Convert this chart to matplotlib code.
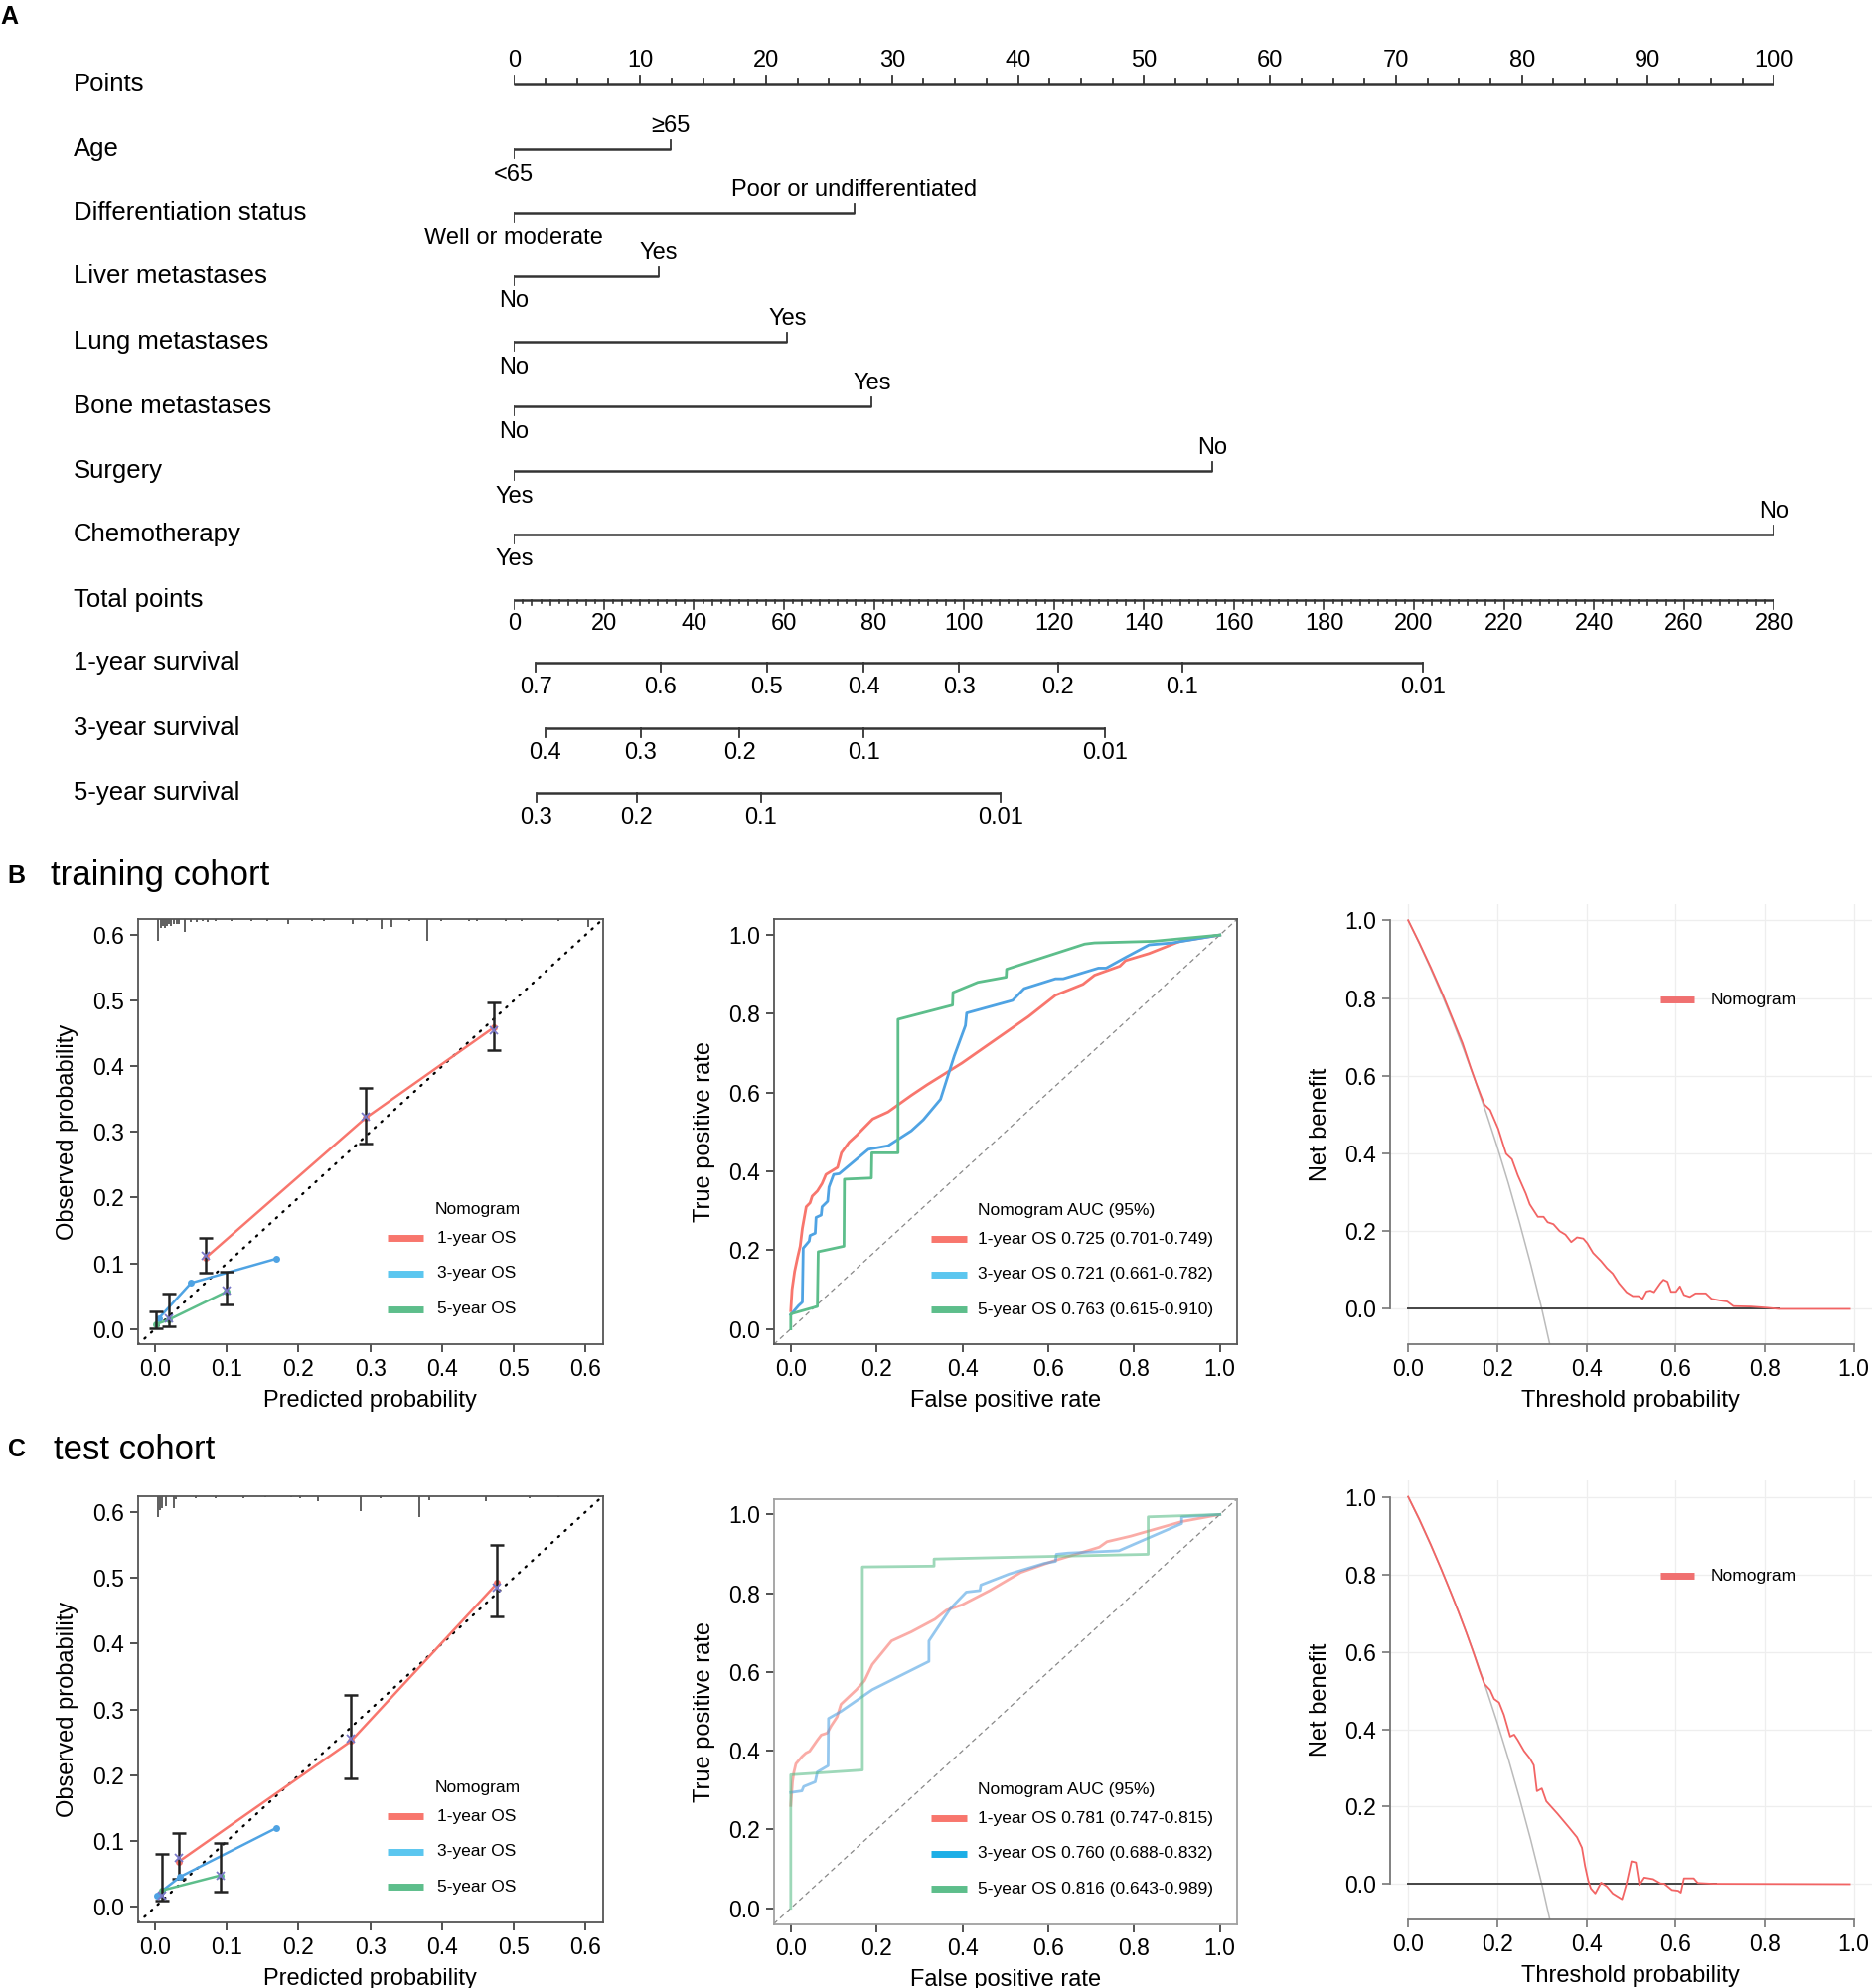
import numpy as np
import matplotlib
matplotlib.use("Agg")
import matplotlib.pyplot as plt

plt.rcParams['font.family'] = ['Liberation Sans', 'DejaVu Sans']

# ---- panel A: nomogram ----
var_names = ["Age", "Differentiation status", "Liver metastases", "Lung metastases",
             "Bone metastases", "Surgery", "Chemotherapy"]
var_low = ["<65", "Well or moderate", "No", "No", "No", "Yes", "Yes"]
var_high = ["≥65", "Poor or undifferentiated", "Yes", "Yes", "Yes", "No", "No"]
var_points = [12.4, 27.0, 11.5, 21.7, 28.4, 55.4, 100.0]

surv_names = ["1-year survival", "3-year survival", "5-year survival"]
surv_labels = [["0.7", "0.6", "0.5", "0.4", "0.3", "0.2", "0.1", "0.01"],
               ["0.4", "0.3", "0.2", "0.1", "0.01"],
               ["0.3", "0.2", "0.1", "0.01"]]
surv_total = [[4.8, 32.6, 56.2, 77.7, 98.9, 120.9, 148.5, 202.0],
              [6.9, 28.1, 50.1, 77.7, 131.3],
              [5.0, 27.3, 54.9, 108.2]]

# ---- calibration (B = training, C = test) ----
cal_b = {
    "1y": dict(pred=[0.070, 0.293, 0.472], obs=[0.108, 0.321, 0.459],
               lo=[0.086, 0.282, 0.425], hi=[0.138, 0.367, 0.498]),
    "3y": dict(pred=[0.005, 0.050, 0.169], obs=[0.016, 0.070, 0.107]),
    "5y": dict(pred=[0.001, 0.019, 0.100], obs=[0.007, 0.014, 0.057],
               lo=[0.001, 0.004, 0.038], hi=[0.027, 0.054, 0.087]),
}
cal_b_cross_pred = [0.070, 0.293, 0.472, 0.019, 0.100]
cal_b_cross_obs = [0.112, 0.323, 0.455, 0.016, 0.058]
rug_b_x = [0.004, 0.008, 0.011, 0.0135, 0.016, 0.019, 0.022, 0.026, 0.030, 0.033, 0.042,
           0.050, 0.058, 0.067, 0.073, 0.084, 0.106, 0.134, 0.157, 0.185, 0.219, 0.236,
           0.275, 0.295, 0.316, 0.330, 0.354, 0.380, 0.399, 0.438, 0.449, 0.489, 0.511,
           0.562, 0.604]
rug_b_len = [0.050, 0.020, 0.015, 0.020, 0.015, 0.012, 0.015, 0.010, 0.012, 0.010, 0.030,
             0.006, 0.006, 0.005, 0.006, 0.005, 0.004, 0.004, 0.003, 0.010, 0.004, 0.004,
             0.012, 0.004, 0.022, 0.018, 0.004, 0.050, 0.004, 0.004, 0.004, 0.005, 0.004,
             0.003, 0.018]

cal_c = {
    "1y": dict(pred=[0.033, 0.273, 0.477], obs=[0.069, 0.252, 0.492],
               lo=[0.043, 0.196, 0.441], hi=[0.112, 0.322, 0.550]),
    "3y": dict(pred=[0.002, 0.035, 0.169], obs=[0.018, 0.046, 0.120]),
    "5y": dict(pred=[0.009, 0.091], obs=[0.025, 0.048],
               lo=[0.009, 0.024], hi=[0.080, 0.097]),
}
cal_c_cross_pred = [0.033, 0.009, 0.273, 0.477, 0.091]
cal_c_cross_obs = [0.074, 0.018, 0.255, 0.485, 0.048]
rug_c_x = [0.004, 0.007, 0.0096, 0.015, 0.026, 0.029, 0.057, 0.084, 0.123, 0.154, 0.190,
           0.202, 0.227, 0.286, 0.314, 0.368, 0.382, 0.461, 0.522, 0.562, 0.621]
rug_c_len = [0.049, 0.032, 0.028, 0.024, 0.028, 0.007, 0.004, 0.004, 0.004, 0.003, 0.003,
             0.004, 0.011, 0.035, 0.004, 0.049, 0.009, 0.012, 0.004, 0.003, 0.003]

# ---- ROC curves ----
roc_b_1y_fpr = [0, 0.003, 0.009, 0.016, 0.022, 0.027, 0.036, 0.045, 0.050, 0.062, 0.073, 0.082,
                0.109, 0.118, 0.136, 0.154, 0.191, 0.227, 0.281, 0.318, 0.399, 0.554, 0.617,
                0.681, 0.708, 0.767, 0.780, 0.835, 0.907, 1.0]
roc_b_1y_tpr = [0.046, 0.100, 0.146, 0.182, 0.210, 0.255, 0.310, 0.320, 0.337, 0.350, 0.369, 0.392,
                0.410, 0.447, 0.474, 0.492, 0.533, 0.551, 0.593, 0.620, 0.675, 0.793, 0.847,
                0.875, 0.898, 0.921, 0.935, 0.953, 0.984, 1.0]
roc_b_3y_fpr = [0, 0.018, 0.027, 0.029, 0.043, 0.045, 0.057, 0.059, 0.071, 0.073, 0.086, 0.089,
                0.100, 0.113, 0.181, 0.227, 0.281, 0.309, 0.349, 0.381, 0.407, 0.410, 0.517,
                0.544, 0.617, 0.635, 0.717, 0.735, 0.780, 0.835, 0.889, 1.0]
roc_b_3y_tpr = [0.036, 0.059, 0.068, 0.205, 0.223, 0.237, 0.243, 0.283, 0.289, 0.310, 0.324, 0.360,
                0.392, 0.394, 0.456, 0.465, 0.503, 0.531, 0.583, 0.693, 0.770, 0.802, 0.834,
                0.864, 0.889, 0.889, 0.916, 0.916, 0.943, 0.975, 0.980, 1.0]
roc_b_5y_fpr = [0, 0, 0.062, 0.064, 0.124, 0.125, 0.188, 0.189, 0.250, 0.250, 0.377, 0.378,
                0.436, 0.502, 0.503, 0.685, 0.708, 0.844, 1.0]
roc_b_5y_tpr = [0, 0.038, 0.057, 0.196, 0.210, 0.380, 0.383, 0.447, 0.447, 0.786, 0.822, 0.854,
                0.880, 0.893, 0.913, 0.977, 0.980, 0.984, 1.0]

roc_c_1y_fpr = [0, 0.004, 0.007, 0.012, 0.026, 0.035, 0.044, 0.062, 0.071, 0.085, 0.094, 0.108,
                0.117, 0.153, 0.172, 0.190, 0.235, 0.281, 0.336, 0.363, 0.400, 0.464, 0.536,
                0.609, 0.664, 0.719, 0.737, 0.792, 0.911, 1.0]
roc_c_1y_tpr = [0.261, 0.321, 0.344, 0.367, 0.385, 0.394, 0.399, 0.427, 0.440, 0.445, 0.463, 0.486,
                0.518, 0.555, 0.578, 0.619, 0.679, 0.702, 0.734, 0.757, 0.771, 0.807, 0.853,
                0.881, 0.899, 0.917, 0.931, 0.945, 0.982, 1.0]
roc_c_3y_fpr = [0, 0.026, 0.030, 0.057, 0.062, 0.087, 0.088, 0.117, 0.190, 0.322, 0.322, 0.372,
                0.409, 0.441, 0.443, 0.509, 0.591, 0.617, 0.619, 0.646, 0.765, 0.911, 0.911, 1.0]
roc_c_3y_tpr = [0.294, 0.298, 0.309, 0.321, 0.346, 0.362, 0.482, 0.500, 0.555, 0.627, 0.679, 0.761,
                0.803, 0.807, 0.821, 0.849, 0.876, 0.881, 0.899, 0.902, 0.908, 0.977, 0.994, 1.0]
roc_c_5y_fpr = [0, 0, 0.167, 0.167, 0.334, 0.334, 0.619, 0.833, 0.833, 1.0]
roc_c_5y_tpr = [0, 0.339, 0.351, 0.867, 0.869, 0.887, 0.894, 0.899, 0.994, 1.0]

roc_b_labels = ["1-year OS 0.725 (0.701-0.749)", "3-year OS 0.721 (0.661-0.782)",
                "5-year OS 0.763 (0.615-0.910)"]
roc_c_labels = ["1-year OS 0.781 (0.747-0.815)", "3-year OS 0.760 (0.688-0.832)",
                "5-year OS 0.816 (0.643-0.989)"]

# ---- decision curves ----
dca_b_x = [0, 0.025, 0.051, 0.078, 0.105, 0.122, 0.140, 0.153, 0.171, 0.184, 0.202, 0.216, 0.220,
           0.233, 0.246, 0.264, 0.273, 0.291, 0.304, 0.313, 0.326, 0.340, 0.353, 0.366, 0.379,
           0.393, 0.402, 0.415, 0.433, 0.446, 0.459, 0.473, 0.490, 0.504, 0.517, 0.526, 0.535,
           0.544, 0.552, 0.566, 0.573, 0.582, 0.590, 0.601, 0.610, 0.619, 0.632, 0.645, 0.668,
           0.681, 0.699, 0.716, 0.730, 0.769, 0.805, 0.832, 0.991]
dca_b_y = [1.0, 0.942, 0.878, 0.808, 0.732, 0.684, 0.622, 0.580, 0.526, 0.512, 0.464, 0.413, 0.399,
           0.385, 0.344, 0.297, 0.269, 0.237, 0.237, 0.223, 0.218, 0.200, 0.191, 0.172, 0.184,
           0.181, 0.169, 0.144, 0.123, 0.105, 0.091, 0.066, 0.043, 0.033, 0.033, 0.026, 0.045,
           0.047, 0.043, 0.066, 0.075, 0.070, 0.044, 0.044, 0.058, 0.036, 0.031, 0.040, 0.040,
           0.026, 0.022, 0.019, 0.007, 0.006, 0.003, 0.0, 0.0]
dca_c_x = [0, 0.025, 0.051, 0.074, 0.096, 0.113, 0.131, 0.145, 0.160, 0.171, 0.184, 0.193, 0.204,
           0.215, 0.229, 0.238, 0.246, 0.260, 0.273, 0.282, 0.289, 0.300, 0.310, 0.335, 0.362,
           0.379, 0.390, 0.397, 0.404, 0.410, 0.420, 0.433, 0.446, 0.459, 0.480, 0.490, 0.501,
           0.511, 0.519, 0.530, 0.550, 0.566, 0.575, 0.592, 0.606, 0.612, 0.619, 0.641, 0.650,
           0.685, 0.991]
dca_c_y = [1.0, 0.942, 0.876, 0.814, 0.752, 0.703, 0.648, 0.603, 0.552, 0.517, 0.501, 0.478, 0.469,
           0.437, 0.381, 0.386, 0.372, 0.344, 0.325, 0.307, 0.240, 0.247, 0.214, 0.182, 0.145,
           0.121, 0.094, 0.047, 0.010, -0.011, -0.024, 0.004, -0.006, -0.024, -0.039, 0.001,
           0.059, 0.056, -0.002, 0.017, 0.013, 0.002, 0.001, -0.015, -0.017, -0.022, 0.015,
           0.015, 0.003, 0.001, 0.0]
treat_all_x = [0, 0.025, 0.05, 0.075, 0.10, 0.125, 0.15, 0.175, 0.20, 0.225, 0.25, 0.275, 0.30, 0.318]
treat_all_y = [1.0, 0.940, 0.877, 0.811, 0.741, 0.667, 0.588, 0.505, 0.417, 0.323, 0.222, 0.115,
               0.0, -0.092]
none_end_b = 0.832
none_end_c = 0.69

RED = "#F8766D"
BLUE = "#4FA3E3"
GREEN = "#5DBE8B"
LEG_BLUE = "#5BC6EF"

fig = plt.figure(figsize=(18.86, 20.01), dpi=100)

# ================= panel A =================
ax = fig.add_axes([0.2743, 0.5796, 0.6723, 0.4204])
ax.set_xlim(0, 100)
ax.set_ylim(660, 0)
ax.axis('off')
lc = "#333333"
lab_x = -34.97
rows_y = [67, 118, 168, 218, 270, 321, 372, 422, 474, 523, 575, 626]

ax.text(-40.8, 13, "A", fontsize=18, fontweight='bold', ha='left', va='center')

# points scale
y = rows_y[0]
ax.text(lab_x, y, "Points", fontsize=18.5, ha='left', va='center')
ax.plot([0, 100], [y, y], color=lc, lw=1.8, solid_capstyle='butt')
for v in np.arange(0, 100.01, 2.5):
    ln = 7 if v % 10 == 0 else 4
    ax.plot([v, v], [y, y - ln], color=lc, lw=1.3)
for v in range(0, 101, 10):
    ax.text(v, y - 19, str(v), fontsize=17, ha='center', va='center')

# predictors
for i, name in enumerate(var_names):
    y = rows_y[i + 1]
    p = var_points[i]
    ax.text(lab_x, y, name, fontsize=18.5, ha='left', va='center')
    ax.plot([0, p], [y, y], color=lc, lw=1.8, solid_capstyle='butt')
    ax.plot([p, p], [y, y - 7], color=lc, lw=1.3)
    ax.plot([0, 0], [y, y + 7], color=lc, lw=1.3)
    ax.text(p, y - 18, var_high[i], fontsize=17, ha='center', va='center')
    ax.text(0, y + 20, var_low[i], fontsize=17, ha='center', va='center')

# total points
y = rows_y[8]
sc = 100 / 280.0
ax.text(lab_x, y, "Total points", fontsize=18.5, ha='left', va='center')
ax.plot([0, 100], [y, y], color=lc, lw=1.8, solid_capstyle='butt')
for v in range(0, 281, 2):
    ln = 7 if v % 20 == 0 else (4 if v % 4 == 0 else 2)
    ax.plot([v * sc, v * sc], [y, y + ln], color=lc, lw=1.2)
for v in range(0, 281, 20):
    ax.text(v * sc, y + 19, str(v), fontsize=17, ha='center', va='center')

# survival scales
for k, name in enumerate(surv_names):
    y = rows_y[9 + k]
    tps = np.array(surv_total[k]) * sc
    ax.text(lab_x, y, name, fontsize=18.5, ha='left', va='center')
    ax.plot([tps.min(), tps.max()], [y, y], color=lc, lw=1.8, solid_capstyle='butt')
    for t, lab in zip(tps, surv_labels[k]):
        ax.plot([t, t], [y, y + 7], color=lc, lw=1.3)
        ax.text(t, y + 20, lab, fontsize=17, ha='center', va='center')


# ================= helpers =================
def draw_legend(ax, title, labels, colors, title_xy, title_ha, x0, x1, xt, ys, fs=12.5):
    ax.text(title_xy[0], title_xy[1], title, transform=ax.transAxes, fontsize=fs,
            ha=title_ha, va='center')
    for lab, col, yy in zip(labels, colors, ys):
        ax.plot([x0, x1], [yy, yy], transform=ax.transAxes, color=col, lw=5,
                solid_capstyle='butt')
        ax.text(xt, yy, lab, transform=ax.transAxes, fontsize=fs, ha='left', va='center')


def style_box(ax, col="#555555"):
    for s in ax.spines.values():
        s.set_color(col)
        s.set_linewidth(1.3)
    ax.tick_params(direction='out', length=6, width=1.2, colors='#333333',
                   labelsize=16.5, labelcolor='black', pad=4)


def calib_panel(ax, d, cross_p, cross_o, rug_x, rug_len):
    lo_lim, hi_lim = -0.024, 0.624
    ax.set_xlim(lo_lim, hi_lim)
    ax.set_ylim(lo_lim, hi_lim)
    ax.plot([lo_lim, hi_lim], [lo_lim, hi_lim], color='black', lw=1.7,
            linestyle=(0, (0.6, 3.2)), dash_capstyle='round')
    ax.vlines(rug_x, hi_lim - np.array(rug_len) * (hi_lim - lo_lim), hi_lim,
              color='#333333', lw=1.1)
    for key, col in [("1y", RED), ("3y", BLUE), ("5y", GREEN)]:
        s = d[key]
        ax.plot(s["pred"], s["obs"], color=col, lw=1.8, marker='o', markersize=5,
                markeredgewidth=0)
        if "lo" in s:
            ax.errorbar(s["pred"], s["obs"],
                        yerr=[np.array(s["obs"]) - np.array(s["lo"]),
                              np.array(s["hi"]) - np.array(s["obs"])],
                        fmt='none', ecolor='#222222', elinewidth=1.8, capsize=5, capthick=1.8)
    ax.plot(cross_p, cross_o, linestyle='none', marker='x', markersize=6,
            color='#7A78C8', mew=1.3)
    ticks = [0.0, 0.1, 0.2, 0.3, 0.4, 0.5, 0.6]
    ax.set_xticks(ticks)
    ax.set_yticks(ticks)
    ax.set_xticklabels(["%.1f" % t for t in ticks])
    ax.set_yticklabels(["%.1f" % t for t in ticks])
    style_box(ax)
    ax.set_xlabel("Predicted probability", fontsize=17, labelpad=6)
    ax.set_ylabel("Observed probability", fontsize=17, labelpad=10)
    draw_legend(ax, "Nomogram", ["1-year OS", "3-year OS", "5-year OS"],
                [RED, LEG_BLUE, GREEN], (0.73, 0.317), 'center',
                0.538, 0.614, 0.643, [0.25, 0.167, 0.084])


def roc_panel(ax, curves, labels, leg_cols, alpha, box_col):
    ax.set_xlim(-0.04, 1.04)
    ax.set_ylim(-0.04, 1.04)
    ax.plot([-0.04, 1.04], [-0.04, 1.04], color='#888888', lw=0.9, linestyle=(0, (4, 3)))
    for (fx, ty), col in zip(curves, [RED, BLUE, GREEN]):
        ax.plot(fx, ty, color=col, lw=2.0, alpha=alpha)
    ticks = [0.0, 0.2, 0.4, 0.6, 0.8, 1.0]
    ax.set_xticks(ticks)
    ax.set_yticks(ticks)
    ax.set_xticklabels(["%.1f" % t for t in ticks])
    ax.set_yticklabels(["%.1f" % t for t in ticks])
    style_box(ax, box_col)
    ax.set_xlabel("False positive rate", fontsize=17, labelpad=6)
    ax.set_ylabel("True positive rate", fontsize=17, labelpad=9)
    draw_legend(ax, "Nomogram AUC (95%)", labels, leg_cols, (0.44, 0.315), 'left',
                0.339, 0.418, 0.44, [0.248, 0.165, 0.082])


def dca_panel(ax, x, y, none_end):
    ax.set_xlim(-0.04, 1.04)
    ax.set_ylim(-0.092, 1.042)
    ticks = [0.0, 0.2, 0.4, 0.6, 0.8, 1.0]
    ax.set_xticks(ticks)
    ax.set_yticks(ticks)
    ax.set_xticklabels(["%.1f" % t for t in ticks])
    ax.set_yticklabels(["%.1f" % t for t in ticks])
    ax.grid(color='#EEEEEE', lw=0.9)
    ax.set_axisbelow(True)
    for s in ['top', 'right']:
        ax.spines[s].set_visible(False)
    for s in ['left', 'bottom']:
        ax.spines[s].set_color('#777777')
        ax.spines[s].set_linewidth(1.3)
        ax.spines[s].set_bounds(0, 1)
    ax.tick_params(direction='out', length=6, width=1.2, colors='#777777',
                   labelsize=16.5, labelcolor='black', pad=4)
    ax.plot(treat_all_x, treat_all_y, color='#BBBBBB', lw=1.1, clip_on=True)
    ax.plot([0, none_end], [0, 0], color='#444444', lw=1.4)
    ax.plot(x, y, color='#F26464', lw=1.3)
    ax.set_xlabel("Threshold probability", fontsize=17, labelpad=6)
    ax.set_ylabel("Net benefit", fontsize=17, labelpad=10)
    ax.plot([0.5605, 0.632], [0.783, 0.783], transform=ax.transAxes, color='#F07070',
            lw=5, solid_capstyle='butt')
    ax.text(0.666, 0.783, "Nomogram", transform=ax.transAxes, fontsize=12.5,
            ha='left', va='center')


# ================= panel B =================
fig.text(6 / 1480, 1 - 692 / 1570, "B", fontsize=18, fontweight='bold', ha='left', va='center')
fig.text(40 / 1480, 1 - 692 / 1570, "training cohort", fontsize=25, ha='left', va='center')

ax_b1 = fig.add_axes([0.0736, 0.3236, 0.2480, 0.2140])
calib_panel(ax_b1, cal_b, cal_b_cross_pred, cal_b_cross_obs, rug_b_x, rug_b_len)

ax_b2 = fig.add_axes([0.4128, 0.3236, 0.2473, 0.2140])
roc_panel(ax_b2, [(roc_b_1y_fpr, roc_b_1y_tpr), (roc_b_3y_fpr, roc_b_3y_tpr),
                  (roc_b_5y_fpr, roc_b_5y_tpr)], roc_b_labels,
          [RED, LEG_BLUE, GREEN], 1.0, '#555555')

ax_b3 = fig.add_axes([0.7419, 0.3236, 0.2568, 0.2217])
dca_panel(ax_b3, dca_b_x, dca_b_y, none_end_b)

# ================= panel C =================
fig.text(6 / 1480, 1 - 1145 / 1570, "C", fontsize=18, fontweight='bold', ha='left', va='center')
fig.text(42 / 1480, 1 - 1145 / 1570, "test cohort", fontsize=25, ha='left', va='center')

ax_c1 = fig.add_axes([0.0736, 0.0328, 0.2480, 0.2146])
calib_panel(ax_c1, cal_c, cal_c_cross_pred, cal_c_cross_obs, rug_c_x, rug_c_len)

ax_c2 = fig.add_axes([0.4128, 0.0322, 0.2473, 0.2139])
roc_panel(ax_c2, [(roc_c_1y_fpr, roc_c_1y_tpr), (roc_c_3y_fpr, roc_c_3y_tpr),
                  (roc_c_5y_fpr, roc_c_5y_tpr)], roc_c_labels,
          [RED, "#1CAEE6", GREEN], 0.6, '#A0A0A0')

ax_c3 = fig.add_axes([0.7419, 0.0343, 0.2568, 0.2210])
dca_panel(ax_c3, dca_c_x, dca_c_y, none_end_c)

fig.savefig("out.png", dpi=100, facecolor='white')
